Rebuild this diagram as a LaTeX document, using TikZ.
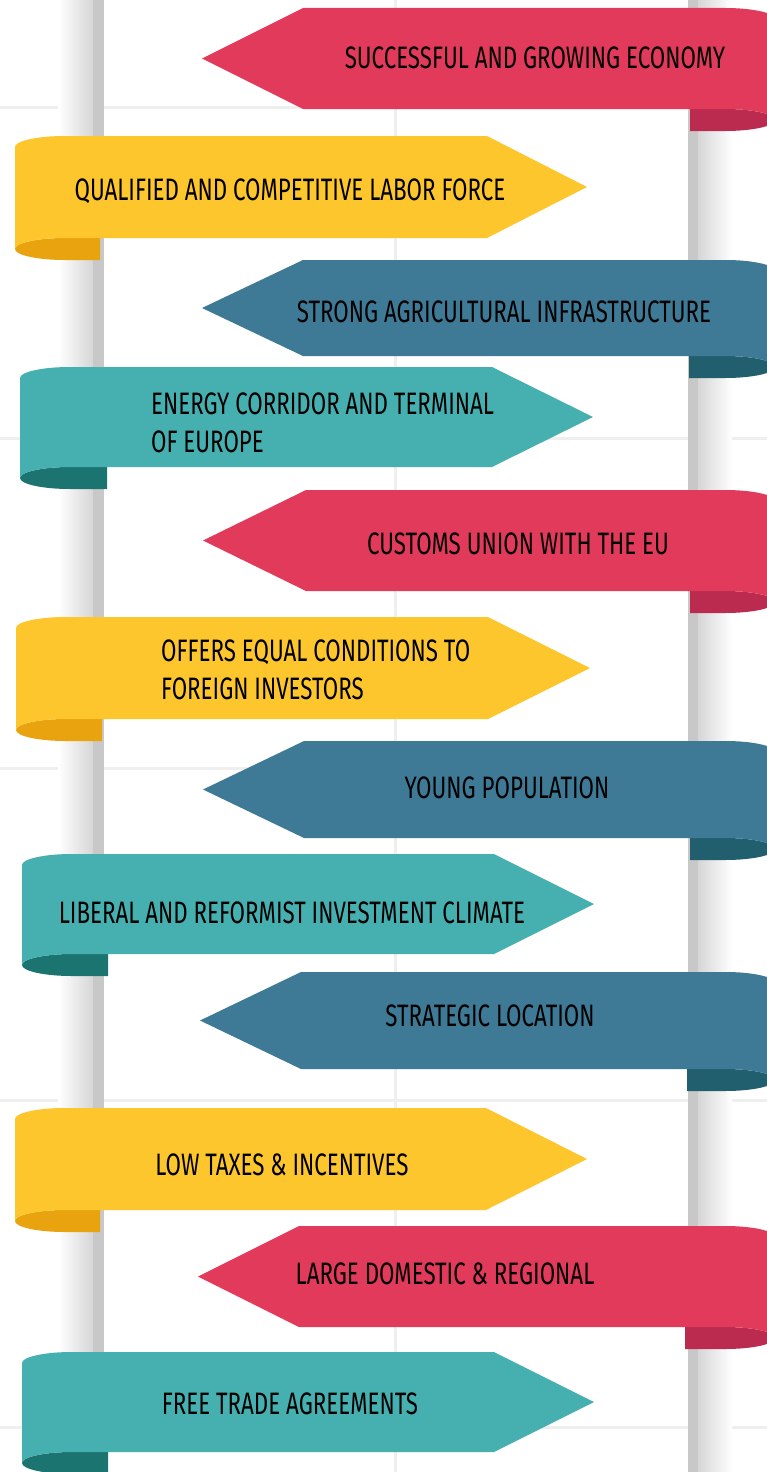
\documentclass[tikz,border=0pt]{standalone}
\usepackage{fontspec}
\setmainfont{Fira Sans}[FakeStretch=0.72]
\usepackage{xcolor}
\usepackage{tikz}

\definecolor{rred}{HTML}{E13A5A}
\definecolor{rredT}{HTML}{BB2B50}
\definecolor{yel}{HTML}{FCC62C}
\definecolor{yelT}{HTML}{E8A30E}
\definecolor{blu}{HTML}{3E7A96}
\definecolor{bluT}{HTML}{215E6E}
\definecolor{tea}{HTML}{46AFAF}
\definecolor{teaT}{HTML}{1C7470}
\definecolor{grid}{HTML}{EFEFEF}
\definecolor{pole}{HTML}{C8C8C8}

\begin{document}
\begin{tikzpicture}[x=1pt,y=-1pt,
	lbl/.style={font=\fontsize{31}{38}\selectfont, inner sep=0pt, align=left}]

\def \rx {50}
\def \ry {11}
\def \cx {725}

\useasboundingbox (0,0) rectangle (767,1472);
\clip (0,0) rectangle (767,1472);
\fill[white] (0,0) rectangle (767,1472);

\foreach \y in {107,438,768,1100,1427}{
	\draw[line width=3, grid] (0,\y)--(767,\y);
}
\draw[line width=3, grid] (395,0)--(395,1472);

\shade[left color=white, right color=pole!75] (58,0) rectangle (93,1472);
\fill[pole] (93,0) rectangle (104,1472);
\fill[pole] (688,0) rectangle (698,1472);
\shade[left color=pole!75, right color=white] (698,0) rectangle (732,1472);

\foreach \xl/\t/\b/\xb/\xt/\xr/\col/\colT in {
	15/136/238/487/587/100/yel/yelT,
	20/367/467/492/593/107/tea/teaT,
	16/617/719/488/590/102/yel/yelT,
	22/854/954/494/594/108/tea/teaT,
	15/1108/1210/486/587/100/yel/yelT,
	22/1352/1452/494/594/108/tea/teaT}{

	\pgfmathsetmacro \m {(\t+\b)/2}
	\fill[\colT] (\xr,\b)--(\xl+\rx,\b)
		arc[start angle=270, end angle=90, x radius=\rx, y radius=\ry]
		--(\xr,\b+2*\ry)--cycle;
	\fill[\col] (\xl,\t+\ry) arc[start angle=180, end angle=270, x radius=\rx, y radius=\ry]
		--(\xb,\t)--(\xt,\m)--(\xb,\b)--(\xl+\rx,\b)
		arc[start angle=270, end angle=180, x radius=\rx, y radius=\ry]--cycle;
}

\foreach \xt/\t/\b/\xb/\xr/\col/\colT in {
	202/8/109/303/690/rred/rredT,
	202/260/356/303/689/blu/bluT,
	203/490/591/306/690/rred/rredT,
	203/741/838/304/690/blu/bluT,
	200/972/1069/301/687/blu/bluT,
	198/1226/1327/299/685/rred/rredT}{

	\pgfmathsetmacro \m {(\t+\b)/2}
	\fill[\colT] (\xr,\b)--(\cx,\b)
		arc[start angle=-90, end angle=90, x radius=\rx, y radius=\ry]
		--(\xr,\b+2*\ry)--cycle;
	\fill[\col] (\xt,\m)--(\xb,\t)--(\cx,\t)
		arc[start angle=270, end angle=360, x radius=\rx, y radius=\ry]
		--(\cx+\rx,\b+\ry)
		arc[start angle=0, end angle=-90, x radius=\rx, y radius=\ry]
		--(\xb,\b)--cycle;
}

\node[lbl, anchor=base] (t1) at (535,68) {SUCCESSFUL AND GROWING ECONOMY};
\node[lbl, anchor=base] (t2) at (290,200) {QUALIFIED AND COMPETITIVE LABOR FORCE};
\node[lbl, anchor=base] (t3) at (504,322) {STRONG AGRICULTURAL INFRASTRUCTURE};
\node[lbl, anchor=base west] (t4) at (151,452) {ENERGY CORRIDOR AND TERMINAL\\OF EUROPE};
\node[lbl, anchor=base] (t5) at (518,554) {CUSTOMS UNION WITH THE EU};
\node[lbl, anchor=base west] (t6) at (161,699) {OFFERS EQUAL CONDITIONS TO\\FOREIGN INVESTORS};
\node[lbl, anchor=base] (t7) at (507,798) {YOUNG POPULATION};
\node[lbl, anchor=base] (t8) at (292,923) {LIBERAL AND REFORMIST INVESTMENT CLIMATE};
\node[lbl, anchor=base] (t9) at (490,1026) {STRATEGIC LOCATION};
\node[lbl, anchor=base] (t10) at (282,1175) {LOW TAXES \& INCENTIVES};
\node[lbl, anchor=base] (t11) at (445,1284) {LARGE DOMESTIC \& REGIONAL};
\node[lbl, anchor=base] (t12) at (290,1414) {FREE TRADE AGREEMENTS};

\end{tikzpicture}
\end{document}
